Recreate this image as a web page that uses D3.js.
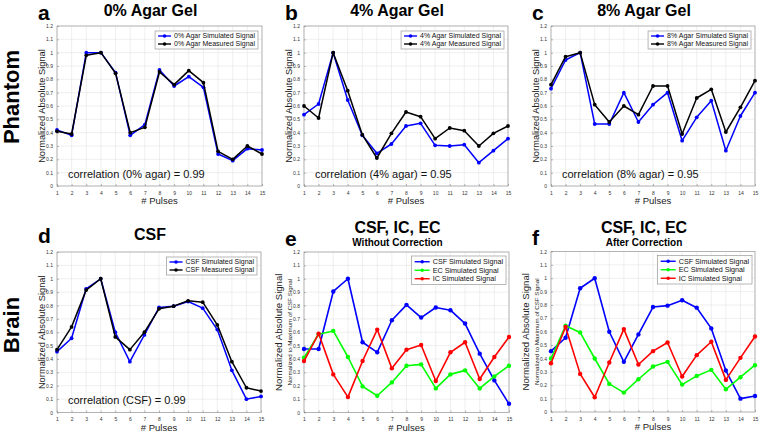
<!DOCTYPE html>
<html><head><meta charset="utf-8">
<script src="https://cdn.jsdelivr.net/npm/d3@7"></script>
<style>body{margin:0;background:#fff}svg{display:block}text{font-family:"Liberation Sans",Arial,Helvetica,sans-serif}</style>
</head><body><svg id="c" width="760" height="434"></svg>
<script>
const pulses = d3.range(1, 16);
const yTicks = [0,0.1,0.2,0.3,0.4,0.5,0.6,0.7,0.8,0.9,1,1.1,1.2];
const yTickLabels = ["0","0.1","0.2","0.3","0.4","0.5","0.6","0.7","0.8","0.9","1","1.1","1.2"];

const agar0Sim  = [0.42,0.38,1.0,1.0,0.85,0.38,0.46,0.87,0.75,0.82,0.74,0.24,0.19,0.28,0.27];
const agar0Meas = [0.41,0.39,0.98,1.0,0.845,0.40,0.44,0.855,0.76,0.865,0.775,0.26,0.20,0.30,0.24];
const agar4Sim  = [0.535,0.615,1.0,0.645,0.38,0.245,0.315,0.45,0.47,0.305,0.30,0.31,0.175,0.265,0.355];
const agar4Meas = [0.60,0.51,1.0,0.715,0.385,0.21,0.395,0.555,0.52,0.355,0.435,0.415,0.30,0.395,0.45];
const agar8Sim  = [0.73,0.945,1.0,0.465,0.465,0.70,0.48,0.61,0.70,0.34,0.515,0.64,0.265,0.525,0.70];
const agar8Meas = [0.76,0.97,1.0,0.61,0.48,0.60,0.535,0.75,0.75,0.39,0.66,0.725,0.405,0.59,0.79];
const csfSim    = [0.455,0.555,0.925,1.0,0.60,0.38,0.58,0.785,0.795,0.83,0.78,0.62,0.315,0.10,0.12];
const csfMeas   = [0.47,0.64,0.915,1.0,0.565,0.47,0.60,0.775,0.795,0.835,0.825,0.655,0.38,0.185,0.16];
const eCSF = [0.475,0.475,0.905,1.0,0.525,0.45,0.69,0.805,0.71,0.785,0.765,0.665,0.44,0.24,0.065];
const eEC  = [0.41,0.585,0.61,0.415,0.195,0.125,0.225,0.35,0.36,0.18,0.285,0.315,0.18,0.27,0.35];
const eIC  = [0.385,0.59,0.285,0.115,0.385,0.62,0.33,0.47,0.505,0.235,0.45,0.525,0.25,0.415,0.565];
const fCSF = [0.455,0.555,0.925,1.0,0.60,0.375,0.58,0.785,0.795,0.835,0.78,0.625,0.31,0.10,0.12];
const fEC  = [0.40,0.645,0.595,0.40,0.21,0.145,0.245,0.34,0.375,0.205,0.27,0.315,0.17,0.26,0.35];
const fIC  = [0.365,0.635,0.285,0.11,0.37,0.62,0.355,0.455,0.52,0.265,0.425,0.525,0.24,0.405,0.565];

const svg = d3.select("#c");
const F = '"Liberation Sans",Arial,Helvetica,sans-serif';

const panels = [
 {letter:"a", title:"0% Agar Gel", x0:57, x1:262, y0:26, y1:186, corr:"correlation (0% agar) = 0.99",
  series:[{name:"0% Agar Simulated Signal",vals:agar0Sim,color:"#0000ff"},{name:"0% Agar Measured Signal",vals:agar0Meas,color:"#000000"}]},
 {letter:"b", title:"4% Agar Gel", x0:304, x1:508, y0:26, y1:186, corr:"correlation (4% agar) = 0.95",
  series:[{name:"4% Agar Simulated Signal",vals:agar4Sim,color:"#0000ff"},{name:"4% Agar Measured Signal",vals:agar4Meas,color:"#000000"}]},
 {letter:"c", title:"8% Agar Gel", x0:551, x1:755, y0:26, y1:186, corr:"correlation (8% agar) = 0.95",
  series:[{name:"8% Agar Simulated Signal",vals:agar8Sim,color:"#0000ff"},{name:"8% Agar Measured Signal",vals:agar8Meas,color:"#000000"}]},
 {letter:"d", title:"CSF", x0:57, x1:261, y0:252, y1:412.5, corr:"correlation (CSF) = 0.99", letterY:243, titleY:240,
  series:[{name:"CSF Simulated Signal",vals:csfSim,color:"#0000ff"},{name:"CSF Measured Signal",vals:csfMeas,color:"#000000"}]},
 {letter:"e", title:"CSF, IC, EC", sub:"Without Correction", x0:304, x1:509, y0:252, y1:412.5, letterY:246, titleY:233, big:true,
  series:[{name:"CSF Simulated Signal",vals:eCSF,color:"#0000ff"},{name:"EC Simulated Signal",vals:eEC,color:"#00ff00"},{name:"IC Simulated Signal",vals:eIC,color:"#ff0000"}]},
 {letter:"f", title:"CSF, IC, EC", sub:"After Correction", x0:551, x1:755, y0:251.5, y1:412, letterY:245, titleY:233, big:true,
  series:[{name:"CSF Simulated Signal",vals:fCSF,color:"#0000ff"},{name:"EC Simulated Signal",vals:fEC,color:"#00ff00"},{name:"IC Simulated Signal",vals:fIC,color:"#ff0000"}]}
];

// row labels
svg.append("text").attr("transform","translate(19,97) rotate(-90)").attr("text-anchor","middle")
  .style("font-family",F).style("font-weight","bold").style("font-size","22px").text("Phantom");
svg.append("text").attr("transform","translate(19,325) rotate(-90)").attr("text-anchor","middle")
  .style("font-family",F).style("font-weight","bold").style("font-size","22px").text("Brain");

panels.forEach(p => {
  const x = d3.scaleLinear().domain([1,15]).range([p.x0,p.x1]);
  const y = d3.scaleLinear().domain([0,1.2]).range([p.y1,p.y0]);
  const g = svg.append("g");
  // grid
  g.selectAll(".gx").data(pulses).join("line").attr("x1",d=>x(d)).attr("x2",d=>x(d)).attr("y1",p.y0).attr("y2",p.y1)
    .attr("stroke","#e4e4e4").attr("stroke-width",0.6);
  g.selectAll(".gy").data(yTicks).join("line").attr("y1",d=>y(d)).attr("y2",d=>y(d)).attr("x1",p.x0).attr("x2",p.x1)
    .attr("stroke","#e4e4e4").attr("stroke-width",0.6);
  // frame
  g.append("rect").attr("x",p.x0).attr("y",p.y0).attr("width",p.x1-p.x0).attr("height",p.y1-p.y0)
    .attr("fill","none").attr("stroke","#9a9a9a").attr("stroke-width",0.7);
  // axes with d3
  const ax = d3.axisBottom(x).tickValues(pulses).tickSize(-2).tickPadding(5).tickFormat(d3.format("d"));
  const ay = d3.axisLeft(y).tickValues(yTicks).tickSize(-2).tickPadding(4).tickFormat((d,i)=>yTickLabels[i]);
  const gx = g.append("g").attr("transform",`translate(0,${p.y1})`).call(ax);
  const gy = g.append("g").attr("transform",`translate(${p.x0},0)`).call(ay);
  [gx,gy].forEach(a=>{
    a.select(".domain").remove();
    a.selectAll("line").attr("stroke","#777").attr("stroke-width",0.5);
    a.selectAll("text").style("font-family",F).style("font-size","5px").attr("fill","#333");
  });
  // axis labels
  g.append("text").attr("x",(p.x0+p.x1)/2).attr("y",p.y1+ (p.big?18:18)).attr("text-anchor","middle")
    .style("font-family",F).style("font-size","9.5px").attr("fill","#222").text("# Pulses");
  if (p.big) {
    g.append("text").attr("transform",`translate(${p.x0-22},${(p.y0+p.y1)/2}) rotate(-90)`).attr("text-anchor","middle")
      .style("font-family",F).style("font-size","9.6px").attr("fill","#222").text("Normalized Absolute Signal");
    g.append("text").attr("transform",`translate(${p.x0-12},${(p.y0+p.y1)/2}) rotate(-90)`).attr("text-anchor","middle")
      .style("font-family",F).style("font-size","6.2px").attr("fill","#222").text("Normalized to Maximum of CSF Signal");
  } else {
    g.append("text").attr("transform",`translate(${p.x0-12},${(p.y0+p.y1)/2}) rotate(-90)`).attr("text-anchor","middle")
      .style("font-family",F).style("font-size","9.3px").attr("fill","#222").text("Normalized Absolute Signal");
  }
  // titles
  const cx = (p.x0+p.x1)/2 - 9;
  g.append("text").attr("x",cx).attr("y",p.titleY||15.5).attr("text-anchor","middle")
    .style("font-family",F).style("font-weight","bold").style("font-size","16px").text(p.title);
  if (p.sub) g.append("text").attr("x",cx).attr("y",246).attr("text-anchor","middle")
    .style("font-family",F).style("font-weight","bold").style("font-size","10px").text(p.sub);
  g.append("text").attr("x",p.x0-19).attr("y",p.letterY||19.5)
    .style("font-family",F).style("font-weight","bold").style("font-size","21px").text(p.letter);
  // lines
  const line = d3.line().x((d,i)=>x(pulses[i])).y(d=>y(d));
  p.series.forEach(s=>{
    g.append("path").attr("d",line(s.vals)).attr("fill","none").attr("stroke",s.color)
      .attr("stroke-width",p.big?1.6:1.5).attr("stroke-linejoin","round");
    g.selectAll(null).data(s.vals).join("circle").attr("cx",(d,i)=>x(pulses[i])).attr("cy",d=>y(d))
      .attr("r",p.big?2.2:1.9).attr("fill",s.color);
  });
  if (p.corr) g.append("text").attr("x",p.x0+11).attr("y",p.y1-8.5)
    .style("font-family",F).style("font-size","11px").attr("fill","#111").text(p.corr);
  // legend
  const fs = p.big?7.2:7, rowH = p.big?8.5:8, sampleW = p.big?15:13;
  const lg = g.append("g");
  const texts = [];
  p.series.forEach((s,i)=>{
    texts.push(lg.append("text").attr("y",i*rowH).attr("dy","0.35em").style("font-family",F).style("font-size",fs+"px").attr("fill","#111").text(s.name));
  });
  const tw = d3.max(texts, t=>t.node().getComputedTextLength());
  const boxW = 3+sampleW+3+tw+3, boxH = rowH*p.series.length+ (p.big?3:2);
  const bx = p.x1 - (p.big?3:4) - boxW, by = p.y0 + (p.big?4:5);
  lg.attr("transform",`translate(${bx},${by})`);
  lg.insert("rect",":first-child").attr("x",0).attr("y",0).attr("width",boxW).attr("height",boxH)
    .attr("fill","#fff").attr("stroke","#888").attr("stroke-width",0.6);
  p.series.forEach((s,i)=>{
    const yy = (p.big?1.5:1) + rowH*(i+0.5);
    lg.append("line").attr("x1",3).attr("x2",3+sampleW).attr("y1",yy).attr("y2",yy).attr("stroke",s.color).attr("stroke-width",1.4);
    lg.append("circle").attr("cx",3+sampleW/2).attr("cy",yy).attr("r",1.8).attr("fill",s.color);
    texts[i].attr("x",3+sampleW+3).attr("y",yy).attr("dy","0.35em");
  });
});
</script></body></html>
